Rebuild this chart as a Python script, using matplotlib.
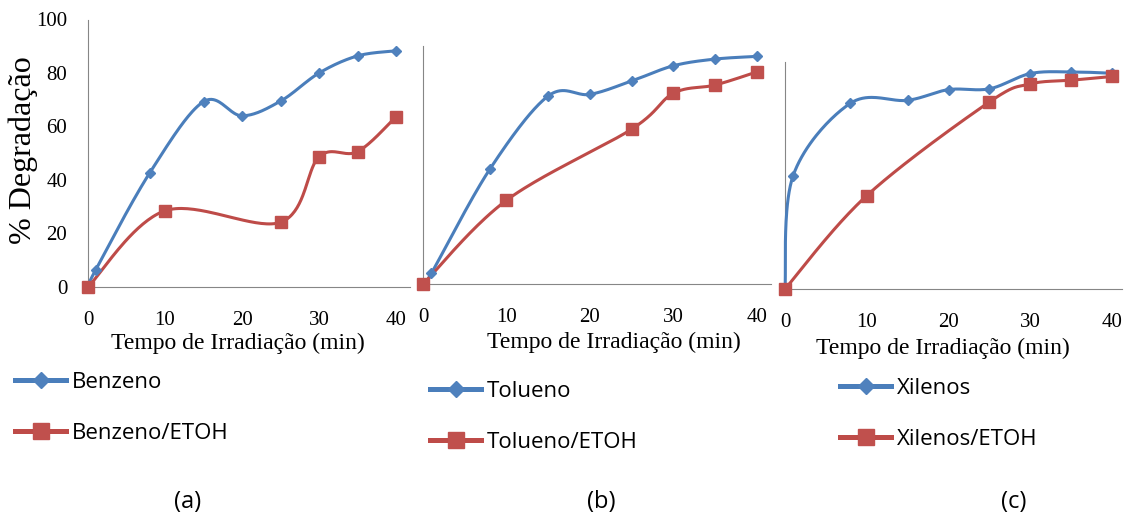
import numpy as np
import matplotlib.pyplot as plt
from matplotlib.lines import Line2D

# tempos de irradiação (min)
t_blue = [0, 1, 8, 15, 20, 25, 30, 35, 40]
t_red = [0, 10, 25, 30, 35, 40]

# % degradação
benzeno = [0, 6.4, 42.6, 69.3, 64.0, 69.5, 80.0, 86.4, 88.3]
benzeno_etoh = [0, 28.5, 24.2, 48.7, 50.6, 63.7]
tolueno = [0, 4.1, 43.0, 70.4, 71.0, 76.0, 81.7, 84.2, 85.2]
tolueno_etoh = [0, 31.4, 58.0, 71.4, 74.5, 79.4]
xilenos = [0, 42.4, 69.4, 70.5, 74.5, 74.8, 80.5, 81.1, 80.6]
xilenos_etoh = [0, 34.9, 69.9, 76.6, 78.0, 79.4]

names = ['Benzeno', 'Tolueno', 'Xilenos']
series_blue = [benzeno, tolueno, xilenos]
series_red = [benzeno_etoh, tolueno_etoh, xilenos_etoh]
panel_tags = ['(a)', '(b)', '(c)']
xticks = [0, 10, 20, 30, 40]
yticks = [0, 20, 40, 60, 80, 100]

BLUE = '#4A7EBB'
RED = '#BE4B48'
W, H = 1129, 517


def smooth(x, y, n=40):
    # curva suavizada tipo Excel (bezier com pontos de controle /6)
    p = np.column_stack([x, y]).astype(float)
    p = np.vstack([p[0], p, p[-1]])
    s = np.linspace(0, 1, n)[:, None]
    segs = []
    for i in range(1, len(p) - 2):
        p0, p1, p2, p3 = p[i - 1], p[i], p[i + 1], p[i + 2]
        c1 = p1 + (p2 - p0) / 6
        c2 = p2 - (p3 - p1) / 6
        segs.append((1 - s) ** 3 * p1 + 3 * (1 - s) ** 2 * s * c1
                    + 3 * (1 - s) * s ** 2 * c2 + s ** 3 * p2)
    pts = np.vstack(segs)
    return pts[:, 0], pts[:, 1]


def rect(left, right, y0, ytop):
    return [left / W, 1 - y0 / H, (right - left) / W, (y0 - ytop) / H]


fig = plt.figure(figsize=(W / 100, H / 100), dpi=100)

# posições em pixels: (esq, dir, y do zero, topo), ymax, xmax
layout = [
    ((88, 410, 287, 19.5), 100, 41.8),
    ((423, 771, 284.3, 45.7), 89.2, 41.7),
    ((785, 1122, 289, 62.3), 84.7, 41.2),
]
xlabel_pos = [(238, 343), (614, 342), (943, 348)]
legend_pos = [(15, 372), (430, 381), (840, 378)]
tag_pos = [(188, 502), (601, 502), (1014, 502)]

for i in range(3):
    r, ymax, xmax = layout[i]
    ax = fig.add_axes(rect(*r))
    ax.set_xlim(0, xmax)
    ax.set_ylim(0, ymax)
    for side in ['top', 'right']:
        ax.spines[side].set_visible(False)
    for side in ['left', 'bottom']:
        ax.spines[side].set_color('#868686')
        ax.spines[side].set_linewidth(0.8)

    xs, ys = smooth(t_blue, series_blue[i])
    ax.plot(xs, ys, color=BLUE, lw=2.2, clip_on=False, zorder=3)
    ax.plot(t_blue[1:], series_blue[i][1:], ls='none', marker='D', ms=5,
            color='#4F81BD', clip_on=False, zorder=4)
    xs, ys = smooth(t_red, series_red[i])
    ax.plot(xs, ys, color=RED, lw=2.2, clip_on=False, zorder=3)
    ax.plot(t_red, series_red[i], ls='none', marker='s', ms=8,
            color='#C0504D', clip_on=False, zorder=5)

    ax.set_xticks(xticks)
    ax.tick_params(axis='x', length=0, pad=17, labelsize=15)
    if i == 0:
        ax.set_yticks(yticks)
        ax.tick_params(axis='y', length=0, pad=15, labelsize=15)
    else:
        ax.set_yticks([])
    for lab in ax.get_xticklabels() + ax.get_yticklabels():
        lab.set_family('Liberation Serif')

    fig.text(xlabel_pos[i][0] / W, 1 - xlabel_pos[i][1] / H,
             'Tempo de Irradiação (min)', ha='center', va='center',
             family='Liberation Serif', fontsize=17)

    handles = [
        Line2D([], [], color=BLUE, lw=3.6, marker='D', ms=8,
               markerfacecolor='#4F81BD', markeredgecolor='#4F81BD'),
        Line2D([], [], color=RED, lw=3.6, marker='s', ms=12,
               markerfacecolor='#C0504D', markeredgecolor='#C0504D'),
    ]
    leg = fig.legend(handles, [names[i], names[i] + '/ETOH'],
                     loc='upper left',
                     bbox_to_anchor=(legend_pos[i][0] / W, 1 - legend_pos[i][1] / H),
                     frameon=False, borderpad=0, borderaxespad=0,
                     handlelength=2.3, handletextpad=0.25, labelspacing=1.35,
                     prop={'family': 'Open Sans', 'size': 16})

    fig.text(tag_pos[i][0] / W, 1 - tag_pos[i][1] / H, panel_tags[i],
             ha='center', va='center', family='Open Sans', fontsize=17)

fig.text(23 / W, 1 - 150 / H, '% Degradação', rotation=90, ha='center',
         va='center', family='Liberation Serif', fontsize=23)

fig.savefig('out.png', dpi=100)
